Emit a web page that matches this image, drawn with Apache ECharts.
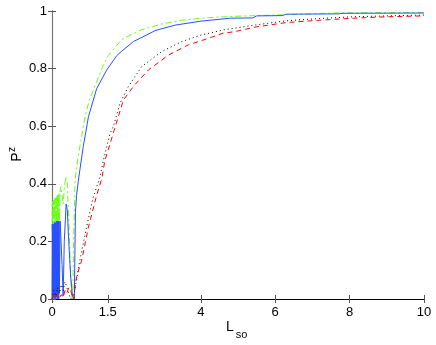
<!DOCTYPE html>
<html>
<head>
<meta charset="utf-8">
<script src="https://cdn.jsdelivr.net/npm/echarts@6/dist/echarts.min.js"></script>
<style>
  html, body { margin: 0; padding: 0; background: #fff; }
  #main { width: 436px; height: 345px; }
</style>
</head>
<body>
<div id="main"></div>
<script>
// x tick positions shown on the axis
var xTicks = [0, 1.5, 4, 6, 8, 10];

// green dash-dot curve [L_so, P^z]
var greenPts = [
  [0, 0.24], [0.01, 0.34], [0.02, 0.24], [0.03, 0.34], [0.04, 0.25], [0.05, 0.345],
  [0.06, 0.25], [0.07, 0.35], [0.08, 0.25], [0.09, 0.35], [0.10, 0.26], [0.11, 0.355],
  [0.12, 0.26], [0.13, 0.36], [0.14, 0.26], [0.15, 0.36], [0.16, 0.27], [0.17, 0.365],
  [0.18, 0.27], [0.19, 0.37], [0.20, 0.27], [0.22, 0.38], [0.24, 0.39], [0.27, 0.36],
  [0.30, 0.33], [0.33, 0.38], [0.37, 0.425], [0.41, 0.40], [0.45, 0.28], [0.49, 0.12],
  [0.53, 0.01], [0.56, 0.0], [0.58, 0.2], [0.62, 0.41], [0.66, 0.46], [0.75, 0.53],
  [0.89, 0.633], [1.0, 0.69], [1.16, 0.74], [1.34, 0.80], [1.51, 0.845], [1.87, 0.90],
  [2.0, 0.91], [2.41, 0.935], [2.95, 0.955], [3.49, 0.968], [4.2, 0.977], [5.0, 0.982],
  [6.0, 0.986], [7.0, 0.99], [7.6, 0.993], [8.5, 0.994], [10, 0.995]
];

// blue solid curve
var bluePts = [
  [0, 0.0], [0.01, 0.26], [0.02, 0.0], [0.03, 0.26], [0.04, 0.01], [0.05, 0.26],
  [0.06, 0.0], [0.07, 0.265], [0.08, 0.01], [0.09, 0.265], [0.10, 0.0], [0.11, 0.265],
  [0.12, 0.01], [0.13, 0.27], [0.14, 0.0], [0.15, 0.27], [0.16, 0.01], [0.17, 0.27],
  [0.18, 0.0], [0.19, 0.27], [0.20, 0.02], [0.22, 0.27], [0.24, 0.27], [0.27, 0.12],
  [0.30, 0.01], [0.33, 0.2], [0.38, 0.33], [0.41, 0.31], [0.45, 0.2], [0.50, 0.08],
  [0.55, 0.01], [0.60, 0.0], [0.63, 0.3], [0.66, 0.36], [0.71, 0.413], [0.84, 0.529],
  [0.98, 0.633], [1.2, 0.73], [1.47, 0.795], [1.74, 0.845], [1.87, 0.86], [2.19, 0.894],
  [2.55, 0.917], [2.77, 0.932], [3.31, 0.951], [4.02, 0.965], [4.8, 0.975], [5.4, 0.976],
  [5.5, 0.983], [6.2, 0.984], [6.3, 0.989], [7.7, 0.99], [7.8, 0.992], [10, 0.993]
];

// black dotted curve
var blackPts = [
  [0, 0.0], [0.05, 0.03], [0.1, 0.01], [0.15, 0.04], [0.2, 0.02], [0.25, 0.05],
  [0.3, 0.03], [0.35, 0.06], [0.4, 0.04], [0.45, 0.02], [0.5, 0.0], [0.55, 0.0],
  [0.6, 0.02], [0.65, 0.06], [0.75, 0.135], [0.93, 0.25], [1.1, 0.35], [1.29, 0.425],
  [1.38, 0.48], [1.56, 0.575], [1.65, 0.60], [1.83, 0.68], [2.05, 0.737], [2.41, 0.807],
  [2.95, 0.859], [3.49, 0.894], [4.02, 0.917], [4.6, 0.934], [5.5, 0.952], [6.3, 0.966],
  [7.2, 0.974], [8.1, 0.98], [9.0, 0.983], [10, 0.986]
];

// red dashed curve
var redPts = [
  [0, 0.0], [0.05, 0.01], [0.1, 0.0], [0.15, 0.02], [0.2, 0.005], [0.25, 0.015],
  [0.3, 0.005], [0.35, 0.03], [0.4, 0.02], [0.45, 0.04], [0.5, 0.03], [0.55, 0.01],
  [0.58, 0.0], [0.66, 0.077], [0.8, 0.135], [0.98, 0.25], [1.2, 0.36], [1.34, 0.419],
  [1.42, 0.48], [1.7, 0.598], [1.92, 0.691], [2.2, 0.74], [2.59, 0.795], [3.13, 0.847],
  [3.66, 0.882], [4.2, 0.905], [4.6, 0.923], [4.9, 0.928], [5.5, 0.945], [6.3, 0.96],
  [7.2, 0.968], [8.1, 0.975], [9.0, 0.98], [10, 0.983]
];

var chart = echarts.init(document.getElementById('main'), null, { renderer: 'canvas' });

var font = 'Liberation Sans';
var tickStyle = { inside: true, length: 4, lineStyle: { color: '#555' } };

function txt(str, x, y, size, rot) {
  return {
    type: 'text', x: x, y: y, rotation: rot || 0,
    style: { text: str, fill: '#000', font: size + 'px "' + font + '"', align: 'center', verticalAlign: 'middle' }
  };
}

chart.setOption({
  animation: false,
  grid: { left: 52, right: 12, top: 11, bottom: 46, outerBoundsMode: 'none' },
  // axis titles: L_so and P^z
  graphic: [
    txt('L', 230, 327, 14),
    txt('so', 241.5, 334.5, 11),
    txt('P', 17, 157, 14, Math.PI / 2),
    txt('z', 12.5, 149.5, 10, Math.PI / 2)
  ],
  xAxis: [
    {
      type: 'value', min: 0, max: 10, position: 'bottom',
      axisLine: { lineStyle: { color: '#777', width: 1.2 } },
      axisTick: Object.assign({ customValues: xTicks }, tickStyle),
      axisLabel: { customValues: xTicks, color: '#000', fontFamily: font, fontSize: 13, margin: 7 },
      splitLine: { show: false }
    },
    {
      type: 'value', min: 0, max: 10, position: 'top',
      axisLine: { lineStyle: { color: '#000', width: 1 } },
      axisTick: Object.assign({ customValues: xTicks }, tickStyle),
      axisLabel: { show: false },
      splitLine: { show: false }
    }
  ],
  yAxis: [
    {
      type: 'value', min: 0, max: 1, interval: 0.2, position: 'left',
      axisLine: { show: true, lineStyle: { color: '#000', width: 1 } },
      axisTick: Object.assign({ show: true }, tickStyle),
      axisLabel: { color: '#000', fontFamily: font, fontSize: 13, margin: 5 },
      splitLine: { show: false }
    },
    {
      type: 'value', min: 0, max: 1, interval: 0.2, position: 'right',
      axisLine: { show: true, lineStyle: { color: '#777', width: 1.2 } },
      axisTick: Object.assign({ show: true }, tickStyle),
      axisLabel: { show: false },
      splitLine: { show: false }
    }
  ],
  series: [
    {
      type: 'line', data: greenPts, showSymbol: false, symbol: 'none',
      lineStyle: { color: '#66ff11', width: 1, type: [6, 3, 2, 3] }
    },
    {
      type: 'line', data: bluePts, showSymbol: false, symbol: 'none',
      lineStyle: { color: '#2850ff', width: 1, type: 'solid' }
    },
    {
      type: 'line', data: blackPts, showSymbol: false, symbol: 'none',
      lineStyle: { color: '#000', width: 1, type: [1, 3] }
    },
    {
      type: 'line', data: redPts, showSymbol: false, symbol: 'none',
      lineStyle: { color: '#ff0000', width: 1, type: [5, 4] }
    }
  ]
});
</script>
</body>
</html>
